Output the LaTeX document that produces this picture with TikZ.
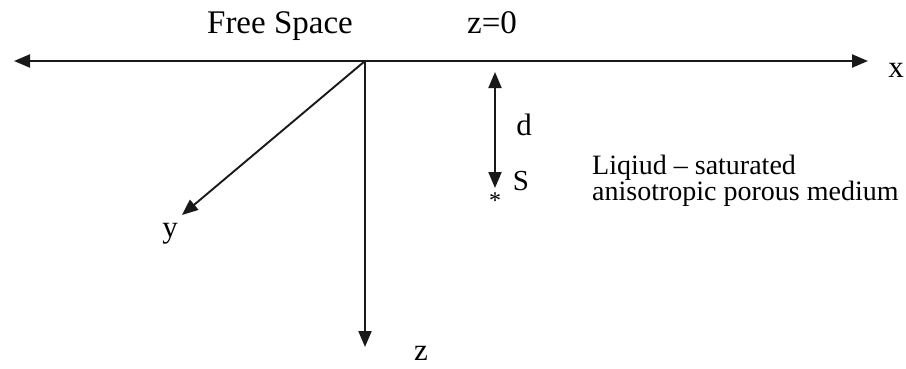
\documentclass[tikz,border=0pt]{standalone}
\usepackage{fontspec}
\setmainfont{Liberation Serif}
\usetikzlibrary{arrows.meta}
\begin{document}
\begin{tikzpicture}[x=1pt,y=-1pt,
  tip/.tip={Triangle[length=16pt,width=13pt]},
  axis/.style={line width=2.2pt, draw=black!90, -tip},
  lbl/.style={inner sep=0pt, anchor=base, font=\fontsize{31}{34}\selectfont},
  note/.style={inner sep=0pt, anchor=base west, align=left, font=\fontsize{28}{26}\selectfont}]
\useasboundingbox (0,0) rectangle (906,368);
\coordinate (O) at (365,61);
\coordinate (L) at (14,61);
\coordinate (R) at (868,61);
\coordinate (Z) at (365,347);
\coordinate (Y) at (182,215);
\coordinate (dT) at (495,72);
\coordinate (dB) at (495,188);
\draw[axis] (O) -- (L);
\draw[axis] (O) -- (R);
\draw[axis] (O) -- (Z);
\draw[axis, line width=1.9pt] (O) -- (Y);
\draw[axis, line width=1.9pt, tip-tip] (dT) -- (dB);
\node[lbl, font=\fontsize{33}{36}\selectfont] (fs) at (280,33) {Free Space};
\node[lbl, font=\fontsize{33}{36}\selectfont] (z0) at (492,33) {z=0};
\node[lbl] (xl) at (896,77) {x};
\node[lbl] (yl) at (170,237) {y};
\node[lbl] (zl) at (421,360) {z};
\node[lbl] (dl) at (524,135) {d};
\node[lbl, font=\fontsize{29}{32}\selectfont] (Sl) at (521,190) {S};
\node[inner sep=0pt, anchor=base, font=\fontsize{24}{24}\selectfont] (star) at (495,208) {*};
\node[note] (liq) at (592,200) {Liqiud -- saturated\\anisotropic porous medium};
\end{tikzpicture}
\end{document}
